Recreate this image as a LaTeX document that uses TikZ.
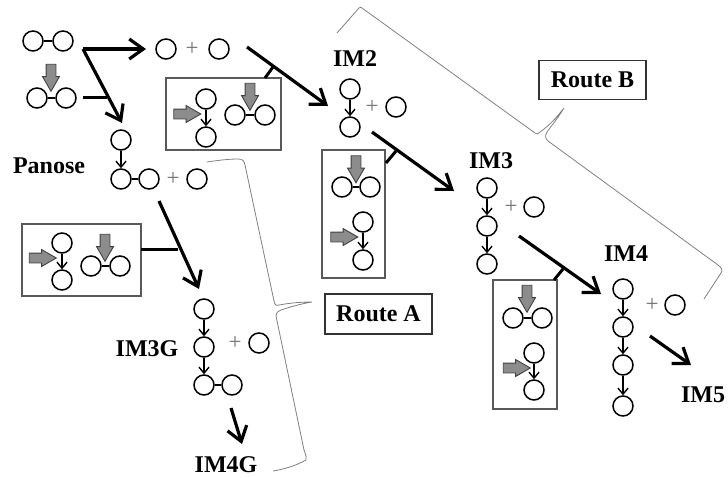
\documentclass[tikz,border=0pt]{standalone}
\usepackage{fontspec}
\setmainfont{Liberation Serif}
\usetikzlibrary{arrows.meta, shapes.arrows}

\begin{document}
\begin{tikzpicture}[
  x=1pt, y=-1pt,
  unit/.style={draw, circle, minimum size=20pt, inner sep=0pt, line width=1.5pt},
  bond/.style={line width=1.5pt},
  link/.style={-{Straight Barb[length=6pt,width=10pt]}, line width=1.4pt},
  rxn/.style={-{Straight Barb[length=14pt,width=20pt]}, line width=3.2pt},
  bar/.style={line width=3pt},
  plus/.style={font=\fontsize{23}{23}\selectfont, text=black!55, inner sep=0pt},
  lab/.style={font=\fontsize{24}{26}\selectfont\bfseries, inner sep=0pt},
  grp/.style={draw=black!65, line width=1.4pt, inner sep=0pt},
  route/.style={draw=black!80, line width=1.4pt, inner sep=0pt, font=\fontsize{24}{26}\selectfont\bfseries},
  hit/.style={draw=black!75, fill=black!45, line width=0.9pt, single arrow, inner sep=4.5pt,
              minimum width=16pt, minimum height=27pt, single arrow head extend=3.5pt,
              single arrow tip angle=60},
  hitdown/.style={hit, shape border rotate=270},
  brace/.style={draw=black!50, line width=0.8pt},
]
  \useasboundingbox (0,0) rectangle (728,477);

  % substrates
  \node[hitdown] (hs) at (51,73.5) {};
  \node[unit] (s1) at (33,41) {};
  \node[unit] (s2) at (63,41) {};
  \draw[bond] (s1) -- (s2);
  \node[unit] (s3) at (37,98) {};
  \node[unit] (s4) at (66,98) {};
  \draw[bond] (s3) -- (s4);

  % hydrolysis products
  \node[unit] (g1) at (166,49) {};
  \node[plus] (p1) at (192,49) {+};
  \node[unit] (g2) at (219,49) {};

  % panose
  \node[lab] (panose) at (49,166) {Panose};
  \node[unit] (pa) at (121,140) {};
  \node[unit] (pb) at (121,179) {};
  \node[unit] (pc) at (149,179) {};
  \draw[link] (pa) -- (pb);
  \draw[bond] (pb) -- (pc);
  \node[plus] (p2) at (173,179) {+};
  \node[unit] (pd) at (197,179) {};

  % box next to panose
  \node[grp, minimum width=119pt, minimum height=72pt] (boxa) at (81.5,260) {};
  \node[hit] (ha) at (38.5,258) {};
  \node[unit] (aa) at (62,243) {};
  \node[unit] (ab) at (62,280) {};
  \draw[link] (aa) -- (ab);
  \node[hitdown] (hb) at (105,243.5) {};
  \node[unit] (ac) at (91,266) {};
  \node[unit] (ad) at (120,266) {};
  \draw[bond] (ac) -- (ad);

  % IM3G
  \node[lab] (im3g) at (147,349) {IM3G};
  \node[unit] (ga) at (204,309) {};
  \node[unit] (gb) at (204,347) {};
  \node[unit] (gc) at (204,385) {};
  \node[unit] (gd) at (232,385) {};
  \draw[link] (ga) -- (gb);
  \draw[link] (gb) -- (gc);
  \draw[bond] (gc) -- (gd);
  \node[plus] (p3) at (235,343) {+};
  \node[unit] (ge) at (259,343) {};
  \node[lab] (im4g) at (226,465) {IM4G};

  % box under first product
  \node[grp, minimum width=115pt, minimum height=72pt] (boxb) at (223.5,114) {};
  \node[hit] (hc) at (183,114) {};
  \node[unit] (ba) at (206,99) {};
  \node[unit] (bb) at (206,137) {};
  \draw[link] (ba) -- (bb);
  \node[hitdown] (hd) at (250,92.5) {};
  \node[unit] (bc) at (235,115) {};
  \node[unit] (bd) at (265,115) {};
  \draw[bond] (bc) -- (bd);

  % IM2
  \node[lab] (im2) at (355,59) {IM2};
  \node[unit] (ia) at (350,89) {};
  \node[unit] (ib) at (350,127) {};
  \draw[link] (ia) -- (ib);
  \node[plus] (p4) at (372,107) {+};
  \node[unit] (ic) at (396,107) {};

  % box under IM2
  \node[grp, minimum width=63pt, minimum height=128pt] (boxc) at (353.5,214) {};
  \node[hitdown] (he) at (356,165) {};
  \node[unit] (ca) at (342,187) {};
  \node[unit] (cb) at (370,187) {};
  \draw[bond] (ca) -- (cb);
  \node[hit] (hf) at (340,237) {};
  \node[unit] (cc) at (363,222) {};
  \node[unit] (cd) at (363,260) {};
  \draw[link] (cc) -- (cd);

  % IM3
  \node[lab] (im3) at (491,161) {IM3};
  \node[unit] (ja) at (487,188) {};
  \node[unit] (jb) at (487,226) {};
  \node[unit] (jc) at (487,264) {};
  \draw[link] (ja) -- (jb);
  \draw[link] (jb) -- (jc);
  \node[plus] (p5) at (511,207) {+};
  \node[unit] (jd) at (534,207) {};

  % box under IM3
  \node[grp, minimum width=64pt, minimum height=129pt] (boxd) at (525,344.5) {};
  \node[hitdown] (hg) at (527,294.5) {};
  \node[unit] (da) at (513,318) {};
  \node[unit] (db) at (542,318) {};
  \draw[bond] (da) -- (db);
  \node[hit] (hh) at (512.5,368) {};
  \node[unit] (dc) at (534,353) {};
  \node[unit] (dd) at (534,390) {};
  \draw[link] (dc) -- (dd);

  % IM4 and IM5
  \node[lab] (im4) at (626,254) {IM4};
  \node[unit] (ka) at (623,289) {};
  \node[unit] (kb) at (623,327) {};
  \node[unit] (kc) at (623,365) {};
  \node[unit] (kd) at (623,406) {};
  \draw[link] (ka) -- (kb);
  \draw[link] (kb) -- (kc);
  \draw[link] (kc) -- (kd);
  \node[plus] (p6) at (652,305) {+};
  \node[unit] (ke) at (675,305) {};
  \node[lab] (im5) at (703,395) {IM5};

  % reaction arrows
  \coordinate (r0) at (83,49);
  \coordinate (r1) at (146,49);
  \coordinate (r2) at (122,123);
  \coordinate (r3) at (247,47);
  \coordinate (r4) at (328,106);
  \coordinate (r5) at (159,201);
  \coordinate (r6) at (199,289);
  \coordinate (r7) at (231,408);
  \coordinate (r8) at (242,444);
  \coordinate (r9) at (372,132);
  \coordinate (r10) at (454,191);
  \coordinate (r11) at (519,236);
  \coordinate (r12) at (601,294);
  \coordinate (r13) at (650,336);
  \coordinate (r14) at (691,365);
  \draw[rxn] (r0) -- (r1);
  \draw[rxn] (r0) -- (r2);
  \draw[rxn] (r3) -- (r4);
  \draw[rxn] (r5) -- (r6);
  \draw[rxn] (r7) -- (r8);
  \draw[rxn] (r9) -- (r10);
  \draw[rxn] (r11) -- (r12);
  \draw[rxn] (r13) -- (r14);

  % side bars
  \coordinate (b0) at (83,97);
  \coordinate (b1) at (107,97);
  \coordinate (b2) at (265,78);
  \coordinate (b3) at (273,67);
  \coordinate (b4) at (141,249);
  \coordinate (b5) at (178,249);
  \coordinate (b6) at (386,163);
  \coordinate (b7) at (396,151);
  \coordinate (b8) at (554,280);
  \coordinate (b9) at (563,269);
  \draw[bar] (b0) -- (b1);
  \draw[bar] (b2) -- (b3);
  \draw[bar] (b4) -- (b5);
  \draw[bar] (b6) -- (b7);
  \draw[bar] (b8) -- (b9);

  % routes
  \node[route, minimum width=107pt, minimum height=40pt] (routea) at (378.5,314) {Route A};
  \node[route, minimum width=107pt, minimum height=39pt] (routeb) at (592.5,80) {Route B};

  \draw[brace] (207,162) .. controls (220,160) and (230,159) .. (238,159)
    .. controls (243,159) and (244,161) .. (245,165) -- (274,301)
    .. controls (275,305) and (276,306) .. (279,305)
    .. controls (290,303) and (300,302) .. (312,302)
    .. controls (300,304) and (290,307) .. (281,310)
    .. controls (277,312) and (276,313) .. (276,316)
    -- (304,450) .. controls (306,456) and (307,458) .. (306,460)
    .. controls (295,466) and (285,469) .. (273,471);
  \draw[brace] (337,33) -- (359,8)
    .. controls (360,7) and (361,7) .. (362,8) -- (535,133)
    .. controls (537,135) and (538,134) .. (540,132)
    .. controls (550,125) and (556,118) .. (564,108)
    .. controls (558,118) and (552,125) .. (547,132)
    .. controls (545,136) and (545,138) .. (548,141)
    -- (718,265) .. controls (722,268) and (723,270) .. (721,273)
    -- (704,299);
\end{tikzpicture}
\end{document}
